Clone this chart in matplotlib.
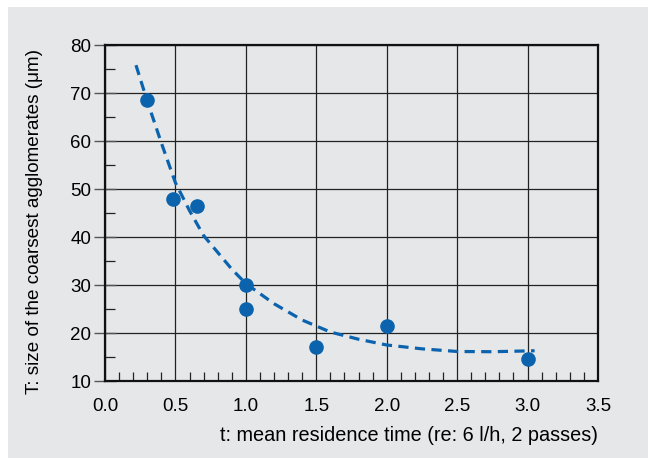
import matplotlib.pyplot as plt
from matplotlib.patches import Rectangle
from matplotlib.ticker import MultipleLocator

plt.rcParams['font.family'] = ['Liberation Sans', 'DejaVu Sans']

# measured points
t_meas = [0.30, 0.48, 0.65, 1.00, 1.00, 1.50, 2.00, 3.00]
T_meas = [68.5, 48.0, 46.5, 30.0, 25.0, 17.0, 21.5, 14.5]

# dashed trend curve
t_fit = [0.22, 0.30, 0.40, 0.50, 0.60, 0.70, 0.80, 0.90, 1.00, 1.20,
         1.40, 1.60, 1.80, 2.00, 2.25, 2.50, 2.75, 3.05]
T_fit = [75.8, 68.3, 59.6, 51.3, 45.5, 40.3, 36.8, 33.3, 30.3, 26.1,
         22.7, 20.2, 18.7, 17.5, 16.7, 16.15, 16.1, 16.3]

BG = '#e6e7e9'
BLUE = '#0b63ad'

fig = plt.figure(figsize=(6.48, 4.58), dpi=100)
fig.patch.set_facecolor('white')
fig.patches.append(Rectangle((8 / 648, 0), 1, 1 - 7 / 458, transform=fig.transFigure,
                             facecolor=BG, edgecolor='none', zorder=-10))

ax = fig.add_axes([105 / 648, 1 - 381 / 458, 493 / 648, 336 / 458])
ax.set_facecolor(BG)

ax.plot(t_fit, T_fit, color=BLUE, lw=2.3, ls=(0, (3.2, 2.0)), zorder=3)
ax.plot(t_meas, T_meas, 'o', color=BLUE, ms=9.5, zorder=4)

ax.set_xlim(0, 3.5)
ax.set_ylim(10, 80)
ax.xaxis.set_major_locator(MultipleLocator(0.5))
ax.xaxis.set_minor_locator(MultipleLocator(0.1))
ax.yaxis.set_major_locator(MultipleLocator(10))
ax.yaxis.set_minor_locator(MultipleLocator(5))
ax.xaxis.set_major_formatter(plt.FormatStrFormatter('%.1f'))

ax.grid(True, which='major', color='#222222', lw=0.9)
ax.set_axisbelow(True)
for s in ax.spines.values():
    s.set_linewidth(1.6)
    s.set_color('#111111')

ax.tick_params(axis='x', which='major', length=0, pad=12, labelsize=13.5)
ax.tick_params(axis='x', which='minor', direction='in', length=6.5, width=0.9, color='#222222')
ax.tick_params(axis='y', which='major', direction='inout', length=16, width=1.0,
               color='#555555', pad=2, labelsize=13.5)
ax.tick_params(axis='y', which='minor', direction='in', length=7, width=0.9, color='#222222')

ax.set_xlabel('t: mean residence time (re: 6 l/h, 2 passes)', fontsize=14.3, ha='right')
ax.xaxis.set_label_coords(1.0, -0.135)
ax.set_ylabel('T: size of the coarsest agglomerates (\u03bcm)', fontsize=13.6)
ax.yaxis.set_label_coords(-0.125, 0.475)

fig.savefig('out.png', dpi=100)
